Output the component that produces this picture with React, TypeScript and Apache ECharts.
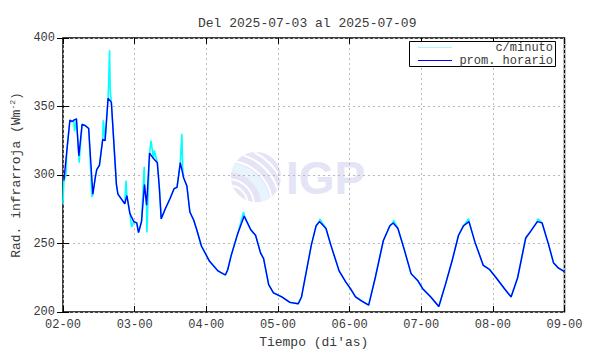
import React, { useEffect, useRef } from 'react';
import * as echarts from 'echarts';

const titleText = 'Del 2025-07-03 al 2025-07-09';
const xTickLabels = ['02-00', '03-00', '04-00', '05-00', '06-00', '07-00', '08-00', '09-00'];
const xName = "Tiempo (di'as)";
const legendNames = ['c/minuto', 'prom. horario'];

// hourly mean (hours since 02-00)
const promHours = [
  0.3, 1.3, 2.3, 3.1, 3.6, 4.5, 5.3, 6.4, 7.5, 8.6,
  10.0, 10.8, 11.3, 12.2, 13.3, 14.1, 15.1, 16.2, 17.9, 18.4,
  19.4, 20.7, 21.4, 22.4, 23.7, 24.7, 25.3, 26.3, 27.3, 28.0,
  29.0, 30.3, 31.6, 32.3, 32.9, 34.2, 35.9, 37.2, 38.2, 39.3,
  40.4, 41.5, 42.5, 43.8, 44.8, 46.4, 49.1, 51.9, 54.4, 55.2,
  56.3, 58.5, 60.7, 62.9, 64.5, 66.2, 67.2, 68.9, 70.5, 73.3,
  76.0, 78.8, 79.9, 83.2, 84.8, 85.9, 88.1, 89.7, 92.5, 94.7,
  96.3, 98.0, 100.1, 102.4, 104.6, 107.3, 109.5, 110.6, 112.2, 114.4,
  116.6, 118.8, 120.5, 123.2, 125.9, 128.1, 130.3, 132.5, 134.2, 136.0,
  138.0, 140.8, 142.9, 145.1, 147.9, 150.1, 152.3, 155.0, 156.7, 158.9,
  160.5, 162.7, 164.3, 166.0, 167.6, 168,
];
const promValues = [
  296, 318, 340, 339, 340, 341, 314, 337, 336, 334,
  286, 298, 304, 307, 326, 325, 356, 353, 293, 286,
  283, 279, 285, 272, 266, 265, 258, 266, 293, 278,
  316, 312, 309, 290, 268, 275, 283, 290, 291, 309,
  298, 292, 273, 267, 260, 248, 237, 230, 227, 231,
  241, 257, 270, 260, 256, 243, 239, 220, 214, 211,
  207, 206, 211, 249, 263, 266, 261, 249, 230, 222,
  217, 211, 208, 205, 225, 252, 263, 265, 261, 245,
  228, 223, 217, 211, 204, 220, 237, 256, 263, 266,
  251, 234, 231, 225, 217, 211, 225, 254, 259, 266,
  265, 249, 236, 232, 230, 229,
];

// minute-resolution excursions away from the hourly mean
const minuteExtraHours = [0, 1.0, 3.9, 5.4, 9.7, 13.5, 15.3, 15.6, 15.8, 21.1, 23.0, 27.2, 28.1, 29.5, 30.6, 39.8, 40.1, 60.5, 86.0, 110.7, 135.9, 159.0];
const minuteExtraValues = [279, 300, 332, 309, 284, 340, 368, 391, 362, 296, 262, 306, 258, 325, 318, 330, 305, 273, 268, 267, 268, 268];

const FONT = 'Liberation Mono, monospace';
const TXT = '#3a3a3a';

function arcAngles(cx: number, cy: number, R: number, qx: number, qy: number, r: number) {
  const dx = cx - qx, dy = cy - qy;
  const d = Math.hypot(dx, dy);
  const a = (d * d + r * r - R * R) / (2 * d);
  const phi = Math.acos(Math.max(-1, Math.min(1, a / r)));
  const t0 = Math.atan2(dy, dx);
  return [t0 - phi, t0 + phi];
}

function buildLogo() {
  const cx = 256, cy = 177, R = 25;
  const qx = cx - 28, qy = cy + 28;
  const els: any[] = [];
  els.push({ type: 'circle', z: -5, shape: { cx, cy, r: R }, style: { fill: '#e4e4f6' }, silent: true });
  const r1 = 33, r2 = 42;
  const [a1s, a1e] = arcAngles(cx, cy, R, qx, qy, r1);
  const [a2s, a2e] = arcAngles(cx, cy, R, qx, qy, r2);
  const pts: number[][] = [];
  const n = 24;
  for (let i = 0; i <= n; i++) {
    const t = a2s + ((a2e - a2s) * i) / n;
    pts.push([qx + r2 * Math.cos(t), qy + r2 * Math.sin(t)]);
  }
  for (let i = n; i >= 0; i--) {
    const t = a1s + ((a1e - a1s) * i) / n;
    pts.push([qx + r1 * Math.cos(t), qy + r1 * Math.sin(t)]);
  }
  els.push({ type: 'polygon', z: -4, shape: { points: pts }, style: { fill: '#e8f4fd' }, silent: true });
  [20, 26, 44, 52, 59].forEach((r) => {
    const [s, e] = arcAngles(cx, cy, R, qx, qy, r);
    els.push({
      type: 'arc', z: -3, silent: true,
      shape: { cx: qx, cy: qy, r, startAngle: s, endAngle: e, clockwise: true },
      style: { stroke: '#ffffff', lineWidth: 2, fill: 'none' },
    });
  });
  els.push({
    type: 'text', z: -5, silent: true, x: 286, y: 178,
    style: { text: 'IGP', fill: '#e4e4f6', font: 'bold 46px "Liberation Sans", Arial, sans-serif', verticalAlign: 'middle', align: 'left' },
  });
  return els;
}

function buildLegend() {
  return [
    { type: 'rect', z: 50, shape: { x: 409.5, y: 41.5, width: 146, height: 25 }, style: { fill: '#fff', stroke: '#000', lineWidth: 1 } },
    { type: 'line', z: 51, shape: { x1: 418, y1: 47.5, x2: 452, y2: 47.5 }, style: { stroke: '#a8fafa', lineWidth: 1 } },
    { type: 'line', z: 51, shape: { x1: 418, y1: 60.5, x2: 452, y2: 60.5 }, style: { stroke: '#0000ff', lineWidth: 1.2 } },
    { type: 'text', z: 51, x: 553, y: 47.5, style: { text: legendNames[0], fill: TXT, font: `12px ${FONT}`, align: 'right', verticalAlign: 'middle' } },
    { type: 'text', z: 51, x: 553, y: 60.5, style: { text: legendNames[1], fill: TXT, font: `12px ${FONT}`, align: 'right', verticalAlign: 'middle' } },
  ];
}

export default function App() {
  const ref = useRef<HTMLDivElement>(null);
  useEffect(() => {
    const chart = echarts.init(ref.current!, null, { renderer: 'svg' });
    const prom = promHours.map((h, i) => [h, promValues[i]]);
    const minute = prom
      .concat(minuteExtraHours.map((h, i) => [h, minuteExtraValues[i]]))
      .sort((a, b) => a[0] - b[0]);
    const tickStyle = { show: true, inside: true, length: 6, lineStyle: { color: '#000', width: 1 } };
    const option: any = {
      animation: false,
      backgroundColor: '#fff',
      title: {
        text: titleText,
        left: 193,
        top: 12,
        textStyle: { fontFamily: FONT, fontSize: 13, fontWeight: 'normal', color: TXT },
      },
      grid: { left: 54, right: 25.5, top: 38, bottom: 40, show: true, borderColor: '#000', borderWidth: 1.5, backgroundColor: 'transparent' },
      xAxis: [
        {
          type: 'value', min: 0, max: 168, interval: 24, position: 'bottom',
          name: xName, nameLocation: 'middle', nameGap: 24,
          nameTextStyle: { fontFamily: FONT, fontSize: 13, color: TXT },
          axisLine: { show: false },
          axisTick: tickStyle,
          axisLabel: {
            margin: 7, fontFamily: FONT, fontSize: 12, color: TXT,
            formatter: (v: number) => xTickLabels[Math.round(v / 24)] ?? '',
          },
          splitLine: { show: true, lineStyle: { color: '#b8b8b8', type: [2, 3], width: 1 } },
        },
        {
          type: 'value', min: 0, max: 168, interval: 24, position: 'top',
          axisLine: { show: false }, axisTick: tickStyle, axisLabel: { show: false }, splitLine: { show: false },
        },
      ],
      yAxis: [
        {
          type: 'value', min: 200, max: 400, interval: 50, position: 'left',
          name: '{a|Rad. infrarroja (Wm}{s|-2}{a|)}',
          nameLocation: 'middle', nameGap: 33, nameRotate: 90,
          nameTextStyle: {
            rich: {
              a: { fontFamily: FONT, fontSize: 13, color: TXT, lineHeight: 16, verticalAlign: 'middle' },
              s: { fontFamily: FONT, fontSize: 8, color: TXT, lineHeight: 16, verticalAlign: 'top' },
            },
          },
          axisLine: { show: false },
          axisTick: tickStyle,
          axisLabel: { margin: 8, fontFamily: FONT, fontSize: 12, color: TXT },
          splitLine: { show: true, lineStyle: { color: '#b8b8b8', type: [2, 3], width: 1 } },
        },
        {
          type: 'value', min: 200, max: 400, interval: 50, position: 'right',
          axisLine: { show: false }, axisTick: tickStyle, axisLabel: { show: false }, splitLine: { show: false },
        },
      ],
      series: [
        {
          name: legendNames[0], type: 'line', data: minute, showSymbol: false, symbol: 'none',
          lineStyle: { color: '#00ffff', width: 1.6 }, z: 3,
        },
        {
          name: legendNames[1], type: 'line', data: prom, showSymbol: false, symbol: 'none',
          lineStyle: { color: '#0000ff', width: 1.4 }, z: 4,
        },
      ],
      graphic: [...buildLogo(), ...buildLegend()],
    };
    chart.setOption(option);
    return () => chart.dispose();
  }, []);
  return <div ref={ref} style={{ position: 'absolute', left: 0, top: 0, width: 590, height: 354 }} />;
}
